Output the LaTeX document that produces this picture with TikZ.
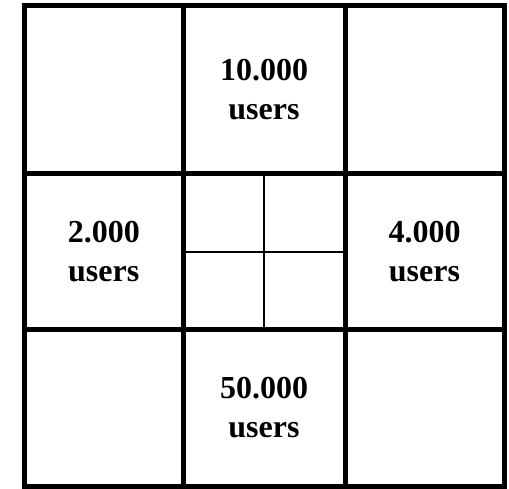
\documentclass[tikz,border=0pt]{standalone}
\usepackage{fontspec}
\setmainfont{Liberation Serif}
\usetikzlibrary{positioning}

\begin{document}
\begin{tikzpicture}[x=1pt, y=-1pt,
        every node/.style={align=center, font=\fontsize{32}{39}\selectfont\bfseries},
        gridline/.style={line width=5pt, line cap=rect},
        subline/.style={line width=2pt}
        ]
        \useasboundingbox (0,0) rectangle (509,489);

        % ---------------- Outer frame and main grid ----------------
        \draw[gridline] (24.5,5.5) rectangle (504,486);
        \draw[gridline] (183,5.5)  -- (183,486);
        \draw[gridline] (345,5.5)  -- (345,486);
        \draw[gridline] (24.5,174) -- (504,174);
        \draw[gridline] (24.5,329) -- (504,329);

        % ---------------- Centre cell split in four ----------------
        \draw[subline] (263.5,174) -- (263.5,329);
        \draw[subline] (183,251.7) -- (345,251.7);

        % ---------------- Labels ----------------
        \node (top)    at (264,90)     {10.000\\users};
        \node (left)   at (103.75,252) {2.000\\users};
        \node (right)  at (424.5,252)  {4.000\\users};
        \node (bottom) at (264,408)    {50.000\\users};

    \end{tikzpicture}
\end{document}
